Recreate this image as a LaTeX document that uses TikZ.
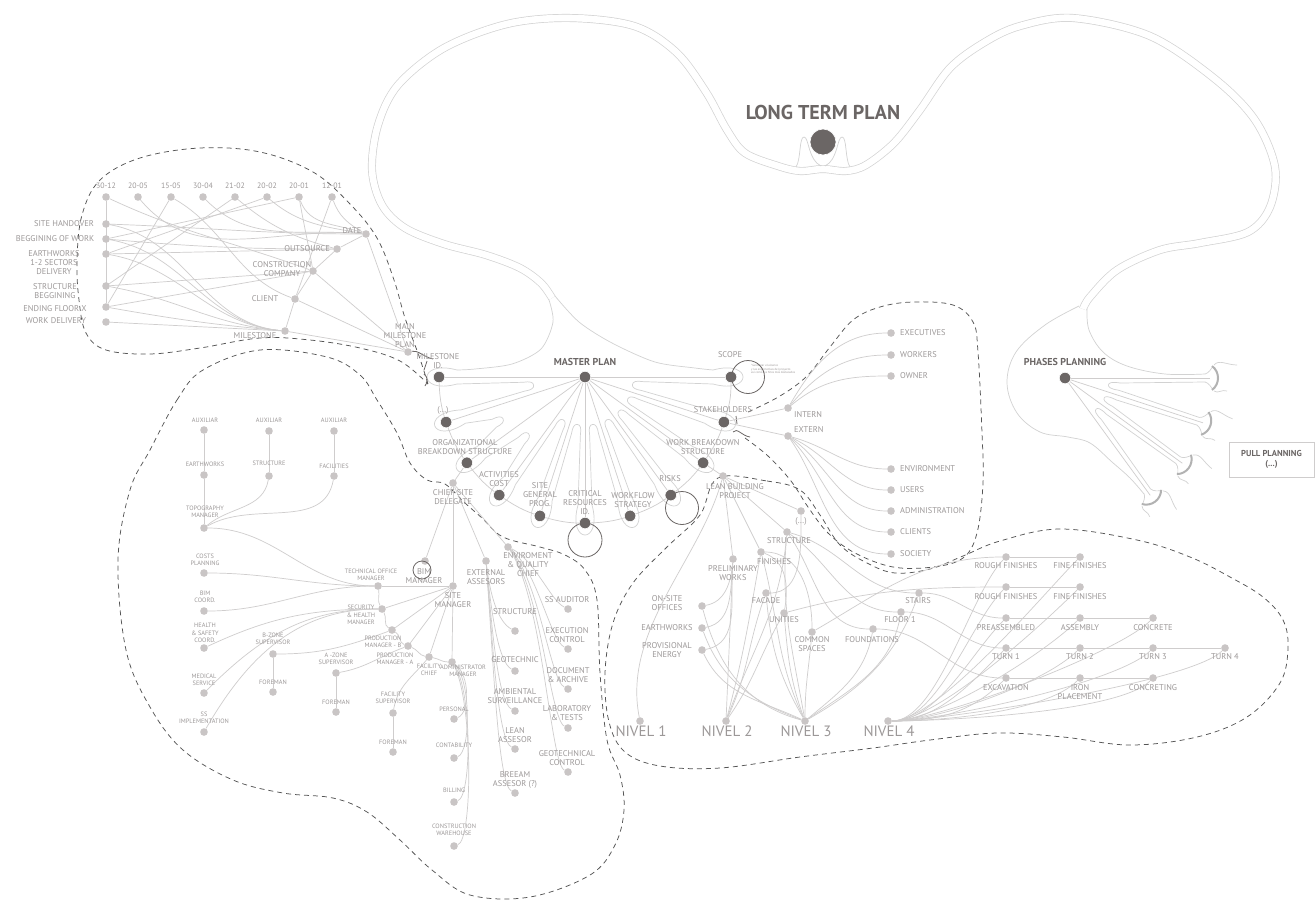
\documentclass[tikz,border=0pt]{standalone}
\usepackage{fontspec}
\setmainfont{PT Sans}
\definecolor{lnc}{HTML}{CFCDCD}
\definecolor{ndc}{HTML}{C9C5C5}
\definecolor{dkc}{HTML}{6B6665}
\definecolor{txc}{HTML}{9C9898}
\definecolor{dsh}{HTML}{555555}
\definecolor{blob}{HTML}{D2D2D2}
\pgfdeclarelayer{bg}
\pgfsetlayers{bg,main}
\tikzset{
  cn/.style={draw=lnc, line width=0.7pt},
  ln/.style={circle, fill=ndc, inner sep=0pt, minimum size=7.6pt},
  dn/.style={circle, fill=dkc, draw=white, line width=0.6pt, inner sep=0pt, minimum size=11.5pt},
  t6/.style={text=txc, font=\fontsize{6.3}{7.3}\selectfont, align=center, inner sep=0pt},
  t7/.style={text=txc, font=\fontsize{7.8}{9}\selectfont, align=center, inner sep=0pt},
  t8/.style={text=txc, font=\fontsize{8.4}{9}\selectfont, align=center, inner sep=0pt},
  tb/.style={text=dkc, font=\bfseries\fontsize{10}{11}\selectfont, align=center, inner sep=0pt},
  tn/.style={text=txc, font=\fontsize{15}{15}\selectfont, inner sep=0pt},
  dsl/.style={draw=dsh, line width=0.75pt, dash pattern=on 5pt off 4pt},
  ring/.style={draw=dkc, line width=0.8pt},
  dk/.style={draw=dkc, line width=0.8pt},
  db/.style={draw=blob, line width=0.7pt, double=white, double distance=6.6pt},
  sb/.style={draw=blob, line width=0.7pt},
  hoof/.style={draw=blob!85!black, line width=2pt},
}
% light node with its caption
\newcommand\addnd[5][t8]{\node[ln] (#2) at (#3) {}; \node[#1] (#2-t) at (#4) {#5};}

\begin{document}
\begin{tikzpicture}[x=1pt,y=-1pt]
\useasboundingbox (0,0) rectangle (1316,900);

% ================= nodes =================
% long term plan
\node[dn, minimum size=26pt] (ltp) at (823,142) {};
\node[text=dkc, font=\bfseries\fontsize{20}{21}\selectfont, inner sep=0pt] (ltp-t) at (823,112) {LONG TERM PLAN};

% milestone planning
\addnd[t7]{d1}{106,197}{106,186}{30-12}
\addnd[t7]{d2}{138,197}{138,186}{20-05}
\addnd[t7]{d3}{171,197}{171,186}{15-05}
\addnd[t7]{d4}{203,197}{203,186}{30-04}
\addnd[t7]{d5}{235,197}{235,186}{21-02}
\addnd[t7]{d6}{267,197}{267,186}{20-02}
\addnd[t7]{d7}{299,197}{299,186}{20-01}
\addnd[t7]{d8}{332,197}{332,186}{12-01}
\addnd{m1}{106,224}{64,224}{SITE HANDOVER}
\addnd{m2}{106,239}{55,239}{BEGGINING OF WORK}
\addnd{m3}{106,254}{54,263}{EARTHWORKS\\1-2 SECTORS\\DELIVERY}
\addnd{m4}{106,286}{55,291}{STRUCTURE\\BEGGINING}
\addnd{m5}{106,307}{55,309}{ENDING FLOOR X}
\addnd{m6}{106,322}{56,321}{WORK DELIVERY}
\addnd{date}{366,234}{352,231}{DATE}
\addnd{outs}{337,249}{307,249}{OUTSOURCE}
\addnd{cons}{313,271}{282,269}{CONSTRUCTION\\COMPANY}
\addnd{client}{295,299}{265,299}{CLIENT}
\addnd{msn}{285,331}{255,336}{MILESTONE}
\addnd{mmp}{408,352}{405,336}{MAIN\\MILESTONE\\PLAN}

% master plan fan
\node[dn] (M) at (585,377) {};
\node[dn] (scope) at (731,377) {};
\node[dn] (stake) at (723.9,422.1) {};
\node[dn] (wbs) at (703.1,462.8) {};
\node[dn] (risks) at (670.8,495.1) {};
\node[dn] (work) at (630.1,515.9) {};
\node[dn] (crit) at (585,523) {};
\node[dn] (sgp) at (539.9,515.9) {};
\node[dn] (act) at (499.2,495.1) {};
\node[dn] (org) at (466.9,462.8) {};
\node[dn] (dots) at (446.1,422.1) {};
\node[dn] (mile) at (439,377) {};
\node[tb] (M-t) at (585,362) {MASTER PLAN};
\node[t8] (mile-t) at (438,361.5) {MILESTONE\\ID.};
\node[t8] (dots-t) at (443,410) {(...)};
\node[t8] (org-t) at (465,447) {ORGANIZATIONAL\\BREAKDOWN STRUCTURE};
\node[t8] (act-t) at (499,479.5) {ACTIVITIES\\COST};
\node[t8] (sgp-t) at (540,495) {SITE\\GENERAL\\PROG.};
\node[t8] (crit-t) at (585,503) {CRITICAL\\RESOURCES\\ID.};
\node[t8] (work-t) at (633,500.5) {WORKFLOW\\STRATEGY};
\node[t8] (risks-t) at (670,479) {RISKS};
\node[t8] (wbs-t) at (703,447.5) {WORK BREAKDOWN\\STRUCTURE};
\node[t8] (stake-t) at (723,410) {STAKEHOLDERS};
\node[t8] (scope-t) at (730,355) {SCOPE};
\node[text=txc, font=\fontsize{3}{3.8}\selectfont, align=left, anchor=north west, inner sep=0pt] (note) at (751,364) {*Gestionar el alcance\\y las expectativas del proyecto\\así como los hitos más destacados};

% stakeholders
\addnd[t8,anchor=west]{intern}{788,408}{794,415}{INTERN}
\addnd[t8,anchor=west]{extern}{788,436}{794,430}{EXTERN}
\addnd[t8,anchor=west]{execs}{891,333}{900,333}{EXECUTIVES}
\addnd[t8,anchor=west]{workers}{891,355}{900,355}{WORKERS}
\addnd[t8,anchor=west]{owner}{891,376}{900,376}{OWNER}
\addnd[t8,anchor=west]{envir}{891,469}{900,469}{ENVIRONMENT}
\addnd[t8,anchor=west]{users}{891,490}{900,490}{USERS}
\addnd[t8,anchor=west]{adm}{891,511}{900,511}{ADMINISTRATION}
\addnd[t8,anchor=west]{clients}{891,532}{900,532}{CLIENTS}
\addnd[t8,anchor=west]{society}{891,554}{900,554}{SOCIETY}

% lean building project
\addnd{lbp}{723,476}{735,491.5}{LEAN BUILDING\\PROJECT}
\addnd{ldots}{801,511}{801,521}{(...)}
\addnd{lstr}{787,532}{789,541}{STRUCTURE}
\addnd{lfin}{761,552}{774,562}{FINISHES}
\addnd{lpre}{733,559}{733,573.5}{PRELIMINARY\\WORKS}
\addnd{onsite}{702,606}{667,603.5}{ON-SITE\\OFFICES}
\addnd{earth}{702,628}{667,628}{EARTHWORKS}
\addnd{prov}{702,650}{667,650.5}{PROVISIONAL\\ENERGY}
\addnd{facade}{766,593}{766,601}{FACADE}
\addnd{unit}{784,613}{784,620}{UNITIES}
\addnd{common}{812,632}{812,644.5}{COMMON\\SPACES}
\addnd{found}{873,629}{872,640}{FOUNDATIONS}
\addnd{floorx}{901,612}{900,620}{FLOOR 1}
\addnd{stairs}{919,593}{918,601}{STAIRS}
\addnd[tn]{N1}{640,721}{641,731}{NIVEL 1}
\addnd[tn]{N2}{726,721}{727,731}{NIVEL 2}
\addnd[tn]{N3}{805,721}{806,731}{NIVEL 3}
\addnd[tn]{N4}{888,721}{889,731}{NIVEL 4}
\addnd{rf1}{1006,557}{1006,566}{ROUGH FINISHES}
\addnd{ff1}{1080,557}{1080,566}{FINE FINISHES}
\addnd{rf2}{1006,587}{1006,597}{ROUGH FINISHES}
\addnd{ff2}{1080,587}{1080,597}{FINE FINISHES}
\addnd{pre}{1006,618}{1006,628}{PREASSEMBLED}
\addnd{asm}{1080,618}{1080,628}{ASSEMBLY}
\addnd{con}{1153,618}{1153,628}{CONCRETE}
\addnd{tA}{1006,648}{1006,657}{TURN 1}
\addnd{tB}{1080,648}{1080,657}{TURN 2}
\addnd{tC}{1153,648}{1153,657}{TURN 3}
\addnd{tD}{1225,648}{1225,657}{TURN 4}
\addnd{exc}{1006,678}{1006,688}{EXCAVATION}
\addnd{iron}{1080,678}{1080,692.5}{IRON\\PLACEMENT}
\addnd{conc}{1153,678}{1153,688}{CONCRETING}

% organisation chart
\addnd[t6]{aux1}{204,430}{205,420}{AUXILIAR}
\addnd[t6]{aux2}{269,431}{269,420}{AUXILIAR}
\addnd[t6]{aux3}{334,431}{334,420}{AUXILIAR}
\addnd[t6]{oew}{204,475}{205,464}{EARTHWORKS}
\addnd[t6]{ost}{269,476}{269,463}{STRUCTURE}
\addnd[t6]{ofac}{334,476}{334,466}{FACILITIES}
\addnd[t6]{topo}{204,528}{205,512}{TOPOGRAPHY\\MANAGER}
\addnd[t6]{costs}{204,573}{205,560}{COSTS\\PLANNING}
\addnd[t6]{bimc}{204,611}{205,597}{BIM\\COORD.}
\addnd[t6]{hs}{204,648}{205,633}{HEALTH\\\& SAFETY\\COORD.}
\addnd[t6]{med}{204,693}{204,680}{MEDICAL\\SERVICE}
\addnd[t6]{ssi}{204,732}{204,718}{SS\\IMPLEMENTATION}
\addnd[t6]{tech}{378,586}{371,574.5}{TECHNICAL OFFICE\\MANAGER}
\addnd[t6]{sec}{382,609}{361,615}{SECURITY\\\& HEALTH\\MANAGER}
\addnd[t6]{pmb}{392,630}{383,641.5}{PRODUCTION\\MANAGER - B}
\addnd[t6]{pma}{408,646}{395,658.5}{PRODUCTION\\MANAGER - A}
\addnd[t6]{fchief}{429,657}{429,669.5}{FACILITY\\CHIEF}
\addnd[t6]{amgr}{452,662}{463,671}{ADMINISTRATOR\\MANAGER}
\addnd[t6]{bzone}{273,654}{273,638.5}{B-ZONE\\SUPERVISOR}
\addnd[t6]{azone}{336,673}{336,658.5}{A -ZONE\\SUPERVISOR}
\addnd[t6]{fm1}{273,692}{273,682}{FOREMAN}
\addnd[t6]{fm2}{336,712}{336,702}{FOREMAN}
\addnd[t6]{fsup}{393,713}{393,698}{FACILITY\\SUPERVISOR}
\addnd[t6]{fm3}{393,752}{393,742}{FOREMAN}
\addnd[t6]{pers}{454,719}{454,709}{PERSONAL}
\addnd[t6]{cont}{454,758}{454,745}{CONTABILITY}
\addnd[t6]{bill}{454,802}{454,790}{BILLING}
\addnd[t6]{ware}{454,846}{454,830}{CONSTRUCTION\\WAREHOUSE}
\addnd{bim}{425,561}{424,576.5}{BIM\\MANAGER}
\addnd{sman}{453,586}{453,600}{SITE\\MANAGER}
\addnd{chief}{453,483}{453,497.5}{CHIEF SITE\\DELEGATE}
\addnd{ext}{486,561}{486,577.5}{EXTERNAL\\ASSESORS}
\addnd{env}{508,547}{528,564.5}{ENVIROMENT\\\& QUALITY\\CHIEF}
\addnd{ssa}{568,609}{567,600}{SS AUDITOR}
\addnd{execc}{568,649}{567,635.5}{EXECUTION\\CONTROL}
\addnd{doc}{568,689}{568,675}{DOCUMENT\\\& ARCHIVE}
\addnd{labt}{568,728}{567,713.5}{LABORATORY\\\& TESTS}
\addnd{geoc}{568,772}{567,758.5}{GEOTECHNICAL\\CONTROL}
\addnd{xstr}{515,631}{515,612}{STRUCTURE}
\addnd{geo}{515,671}{515,660}{GEOTECHNIC}
\addnd{amb}{515,711}{515,696.5}{AMBIENTAL\\SURVEILLANCE}
\addnd{lasr}{515,749}{515,735.5}{LEAN\\ASSESOR}
\addnd{bre}{515,793}{515,779.5}{BREEAM\\ASSESOR (?)}

% phases / pull planning
\node[dn] (ph) at (1065,378) {};
\node[tb] (ph-t) at (1065,362) {PHASES PLANNING};
\node[draw=lnc, line width=0.8pt, minimum width=85pt, minimum height=35pt, text=dkc,
      font=\bfseries\fontsize{8.6}{10.5}\selectfont, align=center] (pull) at (1271.5,459.5) {PULL PLANNING\\(...)};

% rings around key nodes
\draw[ring] (748,377) circle[radius=16.5pt];
\draw[ring] (585,540) circle[radius=17pt];
\draw[ring] (682,508) circle[radius=16.5pt];
\draw[ring] (422,570) circle[radius=9pt];

% ================= lines (behind) =================
\begin{pgfonlayer}{bg}
\fill[white] (0,0) rectangle (1316,900);
% long term outline (double line)
\draw[db] plot[smooth, tension=0.55] coordinates {(552,298) (541,283) (520,268) (486,255) (444,244) (405,228) (382,205) (372,170) (378,125) (398,85) (444,48) (507,24) (570,18) (634,26) (676,52) (706,92) (727,130) (745,153) (778,166) (800,171) (823,169) (846,171) (866,165) (894,143) (920,110) (950,68) (985,42) (1020,26) (1073,18) (1150,36) (1215,79) (1255,120) (1275,167) (1270,207) (1248,232) (1200,243) (1160,250) (1117,270) (1090,297) (1083,309)};
\draw[sb] (796,167) .. controls (801,160) and (799,137) .. (804,137) .. controls (809,137) and (808,160) .. (821,166);
\draw[sb] (850,167) .. controls (845,160) and (847,137) .. (842,137) .. controls (837,137) and (838,160) .. (825,166);
% stems down to the master plan
\draw[sb] plot[smooth] coordinates {(549,300) (553,322) (541,349) (512,364) (475,369) (457,370)};
\draw[sb] plot[smooth] coordinates {(555,296) (579,322) (612,343) (655,362) (695,368) (713,370)};
% petals round the fan
\foreach \a in {0,18,...,180} {
  \begin{scope}[shift={(585,377)}, rotate=-\a]
    \draw[sb] (128,-7) .. controls (168,-18) and (168,18) .. (128,7);
  \end{scope}}
\foreach \g/\r in {9/48,27/48,45/48,63/48,81/48,99/48,117/48,135/80,153/92,171/52} {
  \begin{scope}[shift={(585,377)}, rotate=-\g]
    \draw[sb] (127.5,-13.1) -- ({\r+10},-4.5) .. controls ({\r+3},-4.5) and (\r,-3) .. (\r,0)
              .. controls (\r,3) and ({\r+3},4.5) .. ({\r+10},4.5) -- (127.5,13.1);
  \end{scope}}

% phases planning fingers
\draw[sb] plot[smooth, tension=0.6] coordinates {(1079,306) (1045,325) (1016,352) (1007,383) (1017,413) (1040,432) (1068,437) (1090,443) (1112,462) (1130,478) (1144,494)};
\draw[sb] plot[smooth, tension=0.6] coordinates {(1087,309) (1089,330) (1103,352) (1127,366) (1165,374) (1205,374)};
\foreach \a in {0,18,36,54} {
  \begin{scope}[shift={(1065,378)}, rotate=-\a]
    \coordinate (fe\a) at (145,0);
    \draw[sb] (140,-4) .. controls (144,-5) and (146,-9) .. (148,-12);
    \draw[sb] (140,4) .. controls (144,5) and (146,9) .. (148,12);
    \draw[sb] (149,-13) .. controls (154,-19) and (162,-13) .. (172,-13);
    \draw[sb] (149,13) .. controls (153,16) and (157,11) .. (162,13);
    \draw[hoof] (147,-12) .. controls (155,-6) and (155,6) .. (147,12);
  \end{scope}}
\foreach \a in {18,36,54} {
  \begin{scope}[shift={(1065,378)}, rotate=-\a] \draw[sb] (55,-5) -- (140,-4); \end{scope}}
\foreach \a in {0,18,36} {
  \begin{scope}[shift={(1065,378)}, rotate=-\a] \draw[sb] (55,5) -- (140,4); \end{scope}}
\foreach \g in {9,27,45} {
  \begin{scope}[shift={(1065,378)}, rotate=-\g]
    \draw[sb] (55.1,-3.7) .. controls (46,-3.7) and (44,-2) .. (44,0) .. controls (44,2) and (46,3.7) .. (55.1,3.7);
  \end{scope}}
\foreach \a in {0,18,36,54} \draw[cn] (ph) -- (fe\a);

% dashed groupings
\draw[dsl] plot[smooth, tension=0.6] coordinates {(428,384) (419,356) (405,318) (394,280) (377,238) (350,204) (313,172) (260,152) (200,148) (140,158) (100,180) (82,215) (77,260) (79,300) (86,333) (106,350) (150,354) (200,348) (260,338) (310,340) (360,348) (400,361) (428,384)};
\draw[dsl] plot[smooth cycle, tension=0.6] coordinates {(150,450) (177,400) (203,370) (260,350) (327,357) (360,375) (377,400) (397,433) (410,463) (427,480) (445,484) (465,503) (482,518) (503,537) (540,547) (565,555) (585,570) (597,600) (600,673) (607,740) (620,775) (624,810) (615,845) (590,875) (530,897) (470,895) (432,870) (400,840) (367,812) (333,798) (283,793) (233,780) (183,750) (150,707) (126,650) (118,560) (130,490)};
\draw[dsl] plot[smooth, tension=0.6] coordinates {(748,412) (780,396) (807,376) (830,347) (853,320) (880,307) (913,302) (953,305) (973,322) (978,352) (982,433) (983,483) (977,533) (963,558) (933,567) (893,567) (855,553) (828,533) (808,507) (791,481) (768,456) (745,438)};
\draw[dsl] plot[smooth cycle, tension=0.6] coordinates {(718,478) (767,481) (800,490) (820,515) (840,545) (867,563) (895,573) (930,569) (963,556) (1000,541) (1060,529) (1137,540) (1190,557) (1230,577) (1263,597) (1283,620) (1288,648) (1280,683) (1247,717) (1197,737) (1130,745) (1063,737) (997,733) (930,740) (873,748) (800,757) (720,768) (660,766) (625,752) (609,722) (605,673) (613,623) (633,583) (667,547) (700,515)};
% solid closures of the groupings
\draw[dk] (427,361) -- (424,370);
\draw[dk] (424,374) .. controls (428,377) and (428,382) .. (425,386);
\draw[dk] (mmp) .. controls (418,350) and (424,357) .. (433,359);
\draw[dk] (733,432) .. controls (737,427) and (742,436) .. (750,437);
\draw[dk] (736,416) -- (737,424);

% milestone planning connectors
\draw[cn] (d1) -- (m5);
\draw[cn] (d2) to[out=-50,in=175] (date);
\draw[cn] (d4) to[out=-45,in=175] (date);
\draw[cn] (d6) to[out=-40,in=170] (date);
\draw[cn] (d7) to[out=-70,in=160] (date);
\draw[cn] (d8) to[out=-70,in=150] (date);
\draw[cn] (d1) to[out=-25,in=160] (cons);
\draw[cn] (d3) to[out=-30,in=160] (client);
\draw[cn] (d5) to[out=-40,in=165] (outs);
\draw[cn] (d7) to[out=-80,in=100] (cons);
\draw[cn] (d8) -- (client);
\draw[cn] (m5) -- (d3);
\draw[cn] (m4) -- (d5);
\draw[cn] (m3) -- (d6);
\draw[cn] (m2) -- (d7);
\draw[cn] (m1) to[out=-2,in=180] (date);
\draw[cn] (m2) to[out=-5,in=180] (outs);
\draw[cn] (m3) -- (outs);
\draw[cn] (m4) -- (cons);
\draw[cn] (m5) -- (cons);
\draw[cn] (m6) -- (msn);
\foreach \nn in {m1,m2,m3,m4,m5} \draw[cn] (\nn) to[out=-10,in=175] (msn);
\draw[cn] (msn) -- (client) -- (cons) -- (outs) -- (date);
\foreach \nn in {date,cons,client,msn} \draw[cn] (\nn) -- (mmp);

% master plan connectors
\draw[cn] (mile) -- (M) -- (scope);
\foreach \nn in {dots,org,act,sgp,crit,work,risks,wbs,stake} \draw[cn] (M) -- (\nn);
\draw[cn] (scope) to[bend left=9] (stake) to[bend left=9] (wbs) to[bend left=9] (risks)
  to[bend left=9] (work) to[bend left=9] (crit) to[bend left=9] (sgp) to[bend left=9] (act)
  to[bend left=9] (org) to[bend left=9] (dots) to[bend left=9] (mile);

% stakeholders
\draw[cn] (stake) -- (intern);
\draw[cn] (stake) -- (extern);
\draw[cn] (intern) to[out=60,in=180] (execs);
\draw[cn] (intern) to[out=50,in=180] (workers);
\draw[cn] (intern) to[out=40,in=180] (owner);
\draw[cn] (extern) to[out=-15,in=180] (envir);
\draw[cn] (extern) to[out=-25,in=180] (users);
\draw[cn] (extern) to[out=-35,in=180] (adm);
\draw[cn] (extern) to[out=-45,in=180] (clients);
\draw[cn] (extern) to[out=-55,in=180] (society);

% lean building project
\draw[cn] (wbs) -- (lbp);
\foreach \nn in {ldots,lstr,lfin,lpre} \draw[cn] (lbp) -- (\nn);
\draw[cn] (lbp) .. controls (700,560) and (622,630) .. (N1);
\foreach \nn in {onsite,earth,prov} \draw[cn] (lpre) to[out=-95,in=10] (\nn);
\draw[cn] (lpre) -- (N2);
\draw[cn] (N2) to[out=75,in=-100] (lfin);
\draw[cn] (N2) to[out=70,in=-95] (lstr);
\draw[cn] (N2) to[out=65,in=-110] (facade);
\draw[cn] (N2) to[out=55,in=-120] (unit);
\draw[cn] (ldots) to[out=-90,in=0] (facade);
\draw[cn] (lfin) to[out=0,in=90] (common);
\draw[cn] (lfin) to[out=-20,in=80] (unit);
\draw[cn] (lstr) to[out=-15,in=180] (stairs);
\draw[cn] (lstr) to[out=-35,in=180] (floorx);
\draw[cn] (lstr) to[out=-55,in=180] (found);
\draw[cn] (common) to[out=30,in=180] (rf1);
\draw[cn] (unit) to[out=15,in=180] (rf2);
\draw[cn] (stairs) to[out=0,in=180] (pre);
\draw[cn] (floorx) to[out=0,in=180] (tA);
\draw[cn] (found) to[out=0,in=180] (exc);
\draw[cn] (onsite) to[out=-75,in=165] (N3);
\draw[cn] (earth) to[out=-70,in=160] (N3);
\draw[cn] (prov) to[out=-65,in=155] (N3);
\draw[cn] (facade) to[out=-85,in=120] (N3);
\draw[cn] (unit) to[out=-85,in=110] (N3);
\draw[cn] (common) to[out=-95,in=90] (N3);
\draw[cn] (found) to[out=-100,in=40] (N3);
\draw[cn] (floorx) to[out=-100,in=35] (N3);
\draw[cn] (stairs) to[out=-110,in=30] (N3);
\draw[cn] (lstr) to[out=-95,in=100] (N3);
\draw[cn] (lfin) to[out=-75,in=115] (N3);
\draw[cn] (rf1) -- (ff1);
\draw[cn] (rf2) -- (ff2);
\draw[cn] (pre) -- (asm) -- (con);
\draw[cn] (tA) -- (tB) -- (tC) -- (tD);
\draw[cn] (exc) -- (iron) -- (conc);
\foreach \nn in {rf1,ff1,rf2,ff2,pre,asm,con,tA,tB,tC,tD,exc,iron,conc}
  \draw[cn] (N4) .. controls +(50,0) and +(-35,35) .. (\nn);

% organisation chart
\draw[cn] (org) -- (chief);
\draw[cn] (chief) -- (sman);
\draw[cn] (chief) -- (bim);
\draw[cn] (chief) -- (ext);
\draw[cn] (chief) -- (env);
\foreach \nn in {tech,sec,pmb,pma,fchief,amgr} \draw[cn] (sman) -- (\nn);
\draw[cn] (tech) to[out=-80,in=120] (sec) to[out=-60,in=150] (pmb) to[out=-30,in=160] (pma)
  to[out=-20,in=170] (fchief) to[out=-10,in=180] (amgr);
\draw[cn] (aux1) -- (oew) -- (topo);
\draw[cn] (aux2) -- (ost);
\draw[cn] (aux3) -- (ofac);
\draw[cn] (topo) to[out=40,in=-100] (ost);
\draw[cn] (topo) to[out=30,in=-100] (ofac);
\draw[cn] (topo) to[out=0,in=180] (tech);
\draw[cn] (costs) to[out=0,in=180] (tech);
\draw[cn] (bimc) to[out=0,in=180] (tech);
\draw[cn] (sec) to[out=180,in=25] (hs);
\draw[cn] (sec) to[out=180,in=45] (med);
\draw[cn] (sec) to[out=180,in=60] (ssi);
\draw[cn] (bzone) to[out=0,in=200] (pmb);
\draw[cn] (bzone) -- (fm1);
\draw[cn] (azone) to[out=10,in=200] (pma);
\draw[cn] (azone) -- (fm2);
\draw[cn] (fchief) to[out=-130,in=80] (fsup);
\draw[cn] (fsup) -- (fm3);
\draw[cn] (amgr) .. controls (470,675) and (470,713) .. (pers);
\draw[cn] (amgr) .. controls (471,680) and (471,752) .. (cont);
\draw[cn] (amgr) .. controls (472,690) and (472,796) .. (bill);
\draw[cn] (amgr) .. controls (473,700) and (473,840) .. (ware);
\draw[cn] (ext) .. controls (490,595) and (498,622) .. (xstr);
\draw[cn] (ext) .. controls (491,610) and (498,662) .. (geo);
\draw[cn] (ext) .. controls (492,630) and (498,702) .. (amb);
\draw[cn] (ext) .. controls (493,650) and (498,740) .. (lasr);
\draw[cn] (ext) .. controls (494,670) and (498,784) .. (bre);
\draw[cn] (env) .. controls (535,560) and (550,600) .. (ssa);
\draw[cn] (env) .. controls (537,570) and (550,640) .. (execc);
\draw[cn] (env) .. controls (539,580) and (550,680) .. (doc);
\draw[cn] (env) .. controls (541,590) and (550,719) .. (labt);
\draw[cn] (env) .. controls (543,600) and (550,763) .. (geoc);
\end{pgfonlayer}
\end{tikzpicture}
\end{document}
